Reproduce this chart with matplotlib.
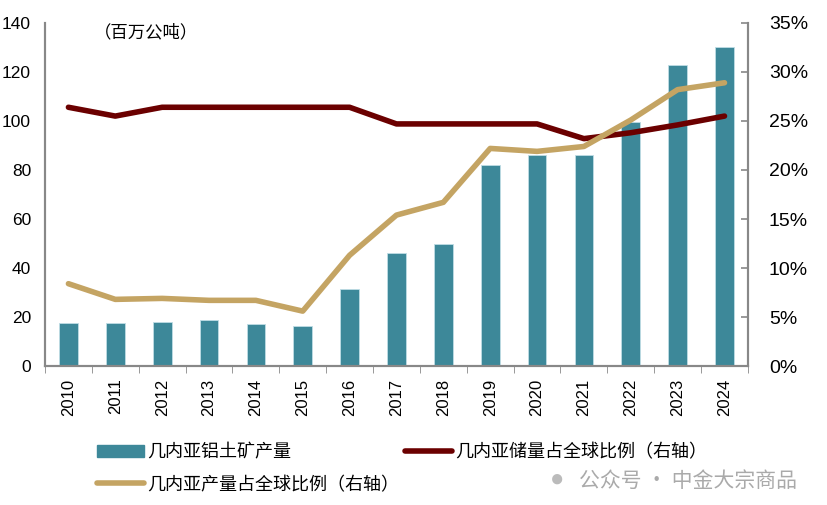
import matplotlib.pyplot as plt
from matplotlib.ticker import FuncFormatter
from matplotlib.lines import Line2D
from matplotlib.patches import Patch

plt.rcParams['font.family'] = ['Liberation Sans', 'Noto Sans CJK SC', 'DejaVu Sans']

years = ["2010", "2011", "2012", "2013", "2014", "2015", "2016", "2017",
         "2018", "2019", "2020", "2021", "2022", "2023", "2024"]
production = [17.5, 17.5, 17.8, 18.8, 17.2, 16.3, 31.4, 46.0,
              50.0, 82.0, 86.0, 86.0, 99.6, 123.0, 130.0]
reserve_share = [26.4, 25.5, 26.4, 26.4, 26.4, 26.4, 26.4, 24.7,
                 24.7, 24.7, 24.7, 23.2, 23.8, 24.6, 25.5]
prod_share = [8.4, 6.8, 6.9, 6.7, 6.7, 5.6, 11.3, 15.4,
              16.7, 22.2, 21.9, 22.4, 25.1, 28.2, 28.9]

bar_c = "#3D8899"
res_c = "#6B0000"
prod_c = "#C4A463"
spine_c = "#888888"

fig = plt.figure(figsize=(8.27, 5.05), dpi=100)
ax = fig.add_axes([0.0544, 0.2752, 0.85, 0.6793])
ax2 = ax.twinx()

x = list(range(len(years)))
ax.bar(x, production, width=0.4, color=bar_c, edgecolor="#BFDDE5", linewidth=0.6, zorder=2)
ax2.plot(x, reserve_share, color=res_c, lw=4.0, solid_capstyle="round", solid_joinstyle="round", zorder=3)
ax2.plot(x, prod_share, color=prod_c, lw=4.0, solid_capstyle="round", solid_joinstyle="round", zorder=4)

ax.set_xlim(-0.5, len(years) - 0.5)
ax.set_ylim(0, 140)
ax.set_yticks(range(0, 141, 20))
ax2.set_ylim(0, 35)
ax2.set_yticks(range(0, 36, 5))
ax2.yaxis.set_major_formatter(FuncFormatter(lambda v, p: f"{int(v)}%"))

ax.set_xticks(x)
ax.set_xticklabels(years, rotation=90, fontsize=12)
ax.set_xticks([i - 0.5 for i in range(len(years) + 1)], minor=True)
ax.tick_params(axis="x", which="major", length=0, pad=9)
ax.tick_params(axis="x", which="minor", length=5, color=spine_c, direction="out")
ax.tick_params(axis="y", length=0, labelsize=12.5, pad=10)
ax2.tick_params(axis="y", length=5, color=spine_c, width=1.2, labelsize=14, pad=15, direction="in")

for a in (ax, ax2):
    a.spines["top"].set_visible(False)
    for s in ("left", "right", "bottom"):
        a.spines[s].set_color(spine_c)
        a.spines[s].set_linewidth(1.5)

ax.text(0.07, 1.0, "（百万公吨）", transform=ax.transAxes, fontsize=12.5,
        family=['Noto Sans CJK SC'], va="top")

handles = [Patch(color=bar_c),
           Line2D([], [], color=prod_c, lw=4, solid_capstyle="round"),
           Line2D([], [], color=res_c, lw=4, solid_capstyle="round")]
labels = ["几内亚铝土矿产量", "几内亚产量占全球比例（右轴）", "几内亚储量占全球比例（右轴）"]
fig.legend(handles, labels, ncol=2, loc="lower left", bbox_to_anchor=(0.098, -0.01),
           frameon=False, prop={'family': 'Noto Sans CJK SC', 'size': 13},
           handlelength=2.6, handletextpad=0.15, columnspacing=0.35, labelspacing=0.8)

# watermark
fig.text(0.665, 0.038, "\u25CF", fontsize=17, color="#BBBBBB")
fig.text(0.70, 0.035, "公众号 · 中金大宗商品", fontsize=15, color="#AAAAAA",
         family=['Noto Sans CJK SC'])

fig.savefig("out.png", dpi=100)
